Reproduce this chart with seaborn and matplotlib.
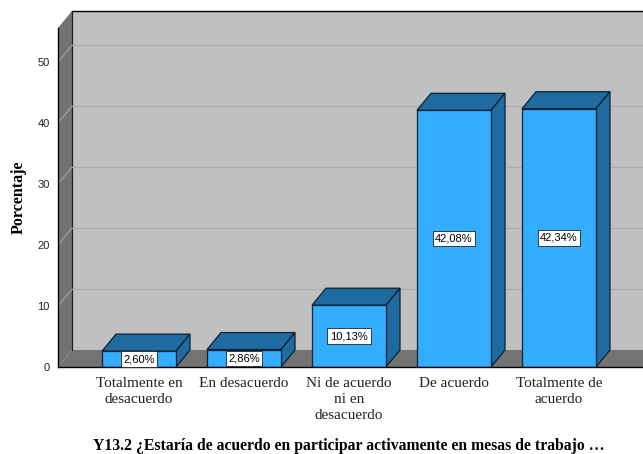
import numpy as np
import pandas as pd
import seaborn as sns
import matplotlib
matplotlib.use("Agg")
import matplotlib.pyplot as plt
from matplotlib.patches import Polygon

categorias = ["Totalmente en\ndesacuerdo", "En desacuerdo", "Ni de acuerdo\nni en\ndesacuerdo",
              "De acuerdo", "Totalmente de\nacuerdo"]
porcentajes = [2.60, 2.86, 10.13, 42.08, 42.34]
etiquetas = ["2,60%", "2,86%", "10,13%", "42,08%", "42,34%"]
yticks = [0, 10, 20, 30, 40, 50]
titulo = "Y13.2 ¿Estaría de acuerdo en participar activamente en mesas de trabajo …"

W, H = 643, 454
frente = "#33ADFF"
oscuro = "#1F6B9F"
borde = "#0A2233"
pared = "#C0C0C0"
suelo = "#737373"
grid_c = "#ABABAB"

sns.set_style("white")
plt.rcParams["font.family"] = ["Liberation Serif", "DejaVu Serif"]

fig = plt.figure(figsize=(W / 100, H / 100), dpi=100, facecolor="white")
# axes in pixels: left 58, baseline 367, top 11, right edge of image
ax = fig.add_axes([58 / W, (H - 367) / H, (W - 58) / W, (367 - 11) / H])
ax.patch.set_visible(False)

df = pd.DataFrame({"cat": categorias, "pct": porcentajes})
sns.barplot(data=df, x="cat", y="pct", color=frente, saturation=1, width=74 / 105,
            edgecolor=borde, linewidth=0.9, ax=ax, zorder=3)

xmin, xmax = (58 - 139) / 105, (W - 139) / 105
ymax = (367 - 11) / 6.1
dx, dy = 14 / 105, 17 / 6.1
techo = ymax - dy
ax.set_xlim(xmin, xmax)
ax.set_ylim(0, ymax)

# walls and floor
ax.add_patch(Polygon([(xmin + dx, dy), (xmax, dy), (xmax, ymax), (xmin + dx, ymax)],
                     fc=pared, ec="none", zorder=0))
ax.add_patch(Polygon([(xmin, 0), (xmax, 0), (xmax, dy), (xmin + dx, dy)],
                     fc=suelo, ec="none", zorder=0))
ax.add_patch(Polygon([(xmin, 0), (xmin + dx, dy), (xmin + dx, ymax), (xmin, techo)],
                     fc=suelo, ec="none", zorder=0))
ax.plot([xmin + dx, xmin + dx], [dy, ymax], color="#222222", lw=0.9, zorder=1)
for t in yticks[1:]:
    ax.plot([xmin + dx, xmax], [t + dy, t + dy], color=grid_c, lw=0.9, zorder=1)
    ax.plot([xmin, xmin + dx], [t, t + dy], color="#A8A8A8", lw=0.7, zorder=1)

# 3d top and side of each bar
for b, lab in zip(ax.patches[:len(porcentajes)], etiquetas):
    x0, x1, h = b.get_x(), b.get_x() + b.get_width(), b.get_height()
    ax.add_patch(Polygon([(x0, h), (x0 + dx, h + dy), (x1 + dx, h + dy), (x1, h)],
                         fc=oscuro, ec=borde, lw=0.9, zorder=2.8))
    ax.add_patch(Polygon([(x1, 0), (x1 + dx, dy), (x1 + dx, h + dy), (x1, h)],
                         fc=oscuro, ec=borde, lw=0.9, zorder=2.8))
    ax.text((x0 + x1) / 2, h / 2, lab, ha="center", va="center", fontsize=8,
            family="Liberation Sans", color="black", zorder=5,
            bbox=dict(boxstyle="square,pad=0.24", fc="white", ec="#222222", lw=0.6))

sns.despine(ax=ax, right=True, top=False, left=False, bottom=False)
for s in ["top", "left", "bottom"]:
    ax.spines[s].set_color("black")
    ax.spines[s].set_linewidth(1.0)
    ax.spines[s].set_zorder(4)
ax.spines["left"].set_bounds(0, techo)
ax.spines["top"].set_bounds(xmin + dx, xmax)

ax.set_yticks(yticks)
ax.set_yticklabels([str(t) for t in yticks], family="Liberation Sans", fontsize=8, color="#222222")
ax.set_xticks(range(len(categorias)))
ax.set_xticklabels(categorias, fontsize=11, color="#222222", linespacing=1.3)
ax.tick_params(axis="both", length=0)
ax.tick_params(axis="x", pad=7.5)
ax.tick_params(axis="y", pad=6)

ax.set_ylabel("Porcentaje", fontweight="bold", fontsize=11.5, color="black")
ax.yaxis.set_label_coords((27 - 58) / (W - 58), (367 - 197) / (367 - 11))
ax.set_xlabel(titulo, fontweight="bold", fontsize=11.3, color="black")
ax.xaxis.set_label_coords((349 - 58) / (W - 58), -(446 - 367) / (367 - 11))
ax.xaxis.label.set_va("center")

fig.savefig("out.png", dpi=100)
